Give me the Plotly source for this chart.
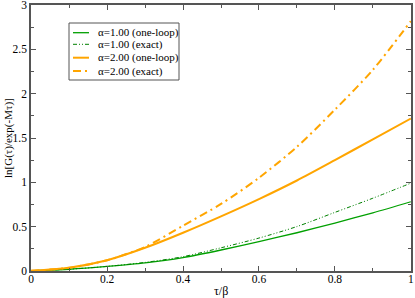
import plotly.graph_objects as go

tau = [0, 0.1, 0.2, 0.3, 0.4, 0.5, 0.6, 0.7, 0.8, 0.9, 1.0]
a1_oneloop = [0, 0.018, 0.05, 0.09, 0.15, 0.235, 0.33, 0.43, 0.54, 0.655, 0.78]
a1_exact = [0, 0.018, 0.05, 0.095, 0.16, 0.26, 0.37, 0.50, 0.66, 0.82, 0.99]
a2_oneloop = [0, 0.035, 0.12, 0.26, 0.43, 0.615, 0.81, 1.02, 1.25, 1.485, 1.72]
a2_exact = [0, 0.035, 0.12, 0.27, 0.51, 0.755, 1.05, 1.40, 1.82, 2.27, 2.82]

names = ["α=1.00 (one-loop)", "α=1.00 (exact)", "α=2.00 (one-loop)", "α=2.00 (exact)"]
series = [a1_oneloop, a1_exact, a2_oneloop, a2_exact]
colors = ["#00a000", "#008000", "#ffa500", "#ffa500"]
dashes = ["solid", "4px,2px,1px,2px,1px,2px", "solid", "8px,4px,2px,4px"]
widths = [1.3, 1.0, 2.0, 2.0]

FONT = "Times New Roman, Liberation Serif, serif"

# pixel geometry of the plot area (used for legend / title placement)
L, R, T, B = 31, 411, 5, 271
def px(x):
    return (x - L) / (R - L)
def py(y):
    return (B - y) / (B - T)

fig = go.Figure()
for n, s, c, d, w in zip(names, series, colors, dashes, widths):
    fig.add_trace(go.Scatter(x=tau, y=s, mode="lines", name=n, showlegend=False,
                             line=dict(color=c, dash=d, width=w, shape="spline", smoothing=0.8)))

axis_common = dict(showgrid=False, zeroline=False, showline=True, linecolor="#555555",
                   linewidth=1.5, mirror="ticks", ticks="inside", ticklen=5,
                   tickcolor="#555555", ticklabeloverflow="allow",
                   tickfont=dict(family=FONT, size=11.5, color="black"))

# manual legend (compact, like the reference)
shapes = [dict(type="rect", xref="paper", yref="paper", x0=px(69), x1=px(179),
               y0=py(80), y1=py(23), line=dict(color="#555555", width=1),
               fillcolor="white", layer="above")]
annotations = []
item_y = [32.7, 44.3, 57.7, 71.0]
for n, c, d, w, yy in zip(names, colors, dashes, widths, item_y):
    shapes.append(dict(type="line", xref="paper", yref="paper", x0=px(73), x1=px(89),
                       y0=py(yy), y1=py(yy), line=dict(color=c, dash=d, width=w),
                       layer="above"))
    annotations.append(dict(text=n, xref="paper", yref="paper", x=px(96), y=py(yy),
                            xanchor="left", yanchor="middle", showarrow=False,
                            font=dict(family=FONT, size=11)))

annotations += [
    dict(text="τ/β", xref="paper", yref="paper", x=0.5, y=py(291), yanchor="middle",
         showarrow=False, font=dict(family=FONT, size=12)),
    dict(text="ln[G(τ)/exp(-Mτ)]", xref="paper", yref="paper", x=px(8), y=0.5,
         textangle=-90, xanchor="center", yanchor="middle", showarrow=False,
         font=dict(family=FONT, size=11)),
]

fig.update_layout(
    width=415, height=298,
    margin=dict(l=L, r=415 - R, t=T, b=298 - B, autoexpand=False),
    paper_bgcolor="white", plot_bgcolor="white",
    font=dict(family=FONT, size=12, color="black"),
    xaxis=dict(range=[-0.0005, 1.0005], tickvals=[0, 0.2, 0.4, 0.6, 0.8, 1.0],
               ticktext=["0", "0.2", "0.4", "0.6", "0.8", "1"], ticklabelstandoff=-4,
               minor=dict(ticks="inside", dtick=0.1, ticklen=3, tickcolor="#555555"),
               **axis_common),
    yaxis=dict(range=[-0.002, 3.002], tickvals=[0, 0.5, 1, 1.5, 2, 2.5, 3],
               ticktext=["0", "0.5", "1", "1.5", "2", "2.5", "3"],
               minor=dict(ticks="inside", dtick=0.25, ticklen=3, tickcolor="#555555"),
               **axis_common),
    showlegend=False,
    shapes=shapes,
    annotations=annotations,
)

fig.write_html("out.html", config={"displayModeBar": False},
               post_script="document.body.style.margin='0';document.body.style.overflow='hidden';")
